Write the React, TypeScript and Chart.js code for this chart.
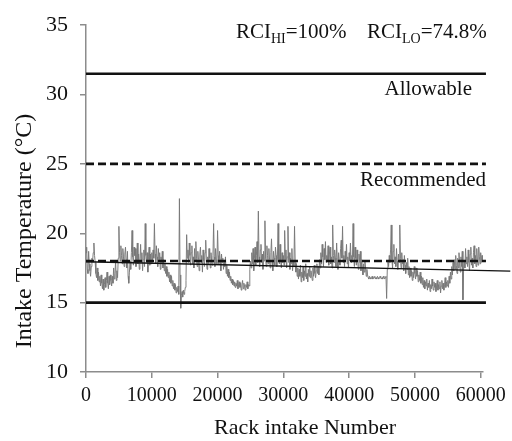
import React, { useEffect, useRef } from 'react';
import { Chart, registerables } from 'chart.js';

Chart.register(...registerables);

// ---- data ----
const RACK_STEP = 100; // spacing between sampled rack intake numbers
const intakeTemps = [
  // 0 - 4900
  18.6, 19.0, 17.4, 17.1, 18.7, 17.8, 17.3, 16.9, 17.6, 18.2,
  18.0, 18.6, 19.3, 18.4, 17.9, 17.1, 16.8, 17.5, 16.6, 17.2,
  16.5, 16.9, 16.2, 17.0, 16.4, 16.0, 16.7, 15.9, 16.3, 16.8,
  16.1, 16.6, 17.2, 16.4, 16.0, 16.9, 16.3, 17.0, 16.6, 16.2,
  16.9, 16.4, 17.5, 16.7, 17.1, 18.0, 16.6, 17.3, 16.8, 18.2,
  // 5000 - 9900
  20.5, 18.6, 18.0, 19.1, 18.4, 17.8, 18.9, 18.3, 17.6, 18.5,
  19.0, 18.1, 17.5, 18.7, 16.9, 16.4, 17.2, 18.0, 17.4, 18.6,
  20.2, 18.3, 17.7, 19.0, 18.4, 18.9, 17.6, 18.2, 19.3, 17.8,
  18.5, 17.4, 18.0, 19.2, 17.9, 18.6, 17.3, 18.1, 18.8, 17.6,
  20.7, 18.4, 17.9, 18.6, 17.2, 18.3, 19.0, 17.7, 18.5, 17.8,
  // 10000 - 14900
  18.6, 17.9, 18.8, 18.2, 20.7, 18.5, 17.8, 19.1, 18.3, 17.6,
  18.9, 18.0, 18.6, 17.4, 18.3, 17.9, 18.7, 17.5, 18.1, 17.3,
  17.8, 17.1, 17.6, 16.9, 17.4, 16.8, 17.2, 16.5, 17.0, 16.4,
  16.9, 16.2, 16.6, 16.0, 16.4, 15.9, 16.3, 15.7, 16.1, 15.8,
  16.2, 15.6, 22.5, 17.0, 14.6, 15.5, 15.8, 15.4, 15.9, 15.6,
  // 15000 - 19900
  15.8, 16.1, 16.6, 19.9, 18.2, 18.8, 17.9, 19.3, 18.4, 17.7,
  18.6, 19.1, 17.8, 18.3, 17.5, 18.9, 18.0, 19.4, 18.2, 17.6,
  18.7, 18.1, 17.3, 18.5, 19.0, 17.9, 18.4, 17.2, 18.8, 18.0,
  17.6, 18.6, 19.5, 18.1, 17.4, 18.3, 17.8, 18.9, 18.2, 17.5,
  18.6, 18.0, 17.7, 18.4, 20.7, 18.3, 17.6, 18.9, 18.1, 17.8,
  // 20000 - 24900
  20.2, 18.4, 17.8, 18.7, 18.1, 17.3, 18.5, 17.9, 18.2, 17.4,
  18.0, 17.6, 18.3, 17.1, 17.7, 16.9, 17.4, 16.8, 17.2, 16.6,
  16.9, 16.4, 16.7, 16.3, 16.6, 16.2, 16.5, 16.1, 16.4, 16.2,
  16.6, 16.0, 16.3, 16.5, 16.1, 16.4, 15.9, 16.3, 16.6, 16.0,
  16.4, 16.2, 15.9, 16.3, 16.1, 16.5, 16.0, 16.3, 16.2, 17.4,
  // 25000 - 29900
  18.0, 17.5, 18.6, 17.8, 18.9, 17.3, 18.2, 19.0, 17.7, 18.4,
  19.4, 17.9, 21.6, 18.3, 17.6, 18.8, 19.2, 17.9, 18.5, 17.4,
  18.7, 18.0, 20.9, 18.2, 17.6, 19.1, 18.4, 17.8, 18.9, 18.1,
  17.5, 18.6, 19.6, 18.0, 17.3, 18.7, 18.2, 17.7, 19.0, 18.4,
  17.6, 18.3, 20.7, 18.1, 17.8, 19.2, 18.0, 17.5, 18.6, 17.9,
  // 30000 - 34900
  18.4, 17.7, 20.2, 18.1, 18.8, 17.5, 18.3, 20.5, 17.9, 18.6,
  17.4, 18.2, 17.8, 18.9, 17.3, 18.0, 17.6, 20.5, 17.9, 17.2,
  17.8, 16.9, 17.5, 16.7, 17.4, 16.9, 17.7, 16.5, 17.2, 16.8,
  17.6, 16.6, 17.3, 16.9, 17.8, 16.7, 17.1, 16.5, 17.4, 16.9,
  17.6, 16.8, 17.3, 17.0, 16.6, 17.5, 16.9, 17.7, 17.1, 16.8,
  // 35000 - 39900
  17.3, 17.8, 17.1, 17.6, 17.0, 18.1, 17.5, 18.6, 17.8, 19.2,
  18.3, 17.6, 18.9, 18.1, 19.4, 17.9, 18.4, 18.0, 19.1, 17.7,
  18.5, 19.0, 17.8, 18.3, 17.5, 20.6, 18.4, 17.9, 18.8, 18.2,
  17.6, 19.3, 18.1, 17.4, 18.6, 18.0, 17.7, 18.9, 19.5, 18.2,
  20.5, 17.9, 18.4, 17.6, 18.7, 18.1, 19.2, 17.8, 18.3, 17.5,
  // 40000 - 44900
  18.6, 18.0, 19.3, 17.9, 18.4, 18.1, 20.7, 18.3, 17.6, 19.0,
  18.2, 17.7, 18.8, 18.0, 17.4, 18.5, 17.9, 18.7, 17.3, 18.1,
  17.6, 17.0, 17.8, 17.2, 18.0, 17.5, 16.9, 17.4, 17.0, 16.8,
  16.7, 16.9, 16.8, 16.7, 16.8, 16.9, 16.7, 16.8, 16.8, 16.9,
  16.7, 16.8, 16.7, 16.9, 16.8, 16.7, 16.8, 16.9, 16.8, 16.7,
  // 45000 - 49900
  16.8, 16.7, 16.9, 16.8, 16.7, 16.8, 16.9, 15.3, 17.4, 18.0,
  17.6, 18.4, 17.9, 18.8, 20.6, 18.1, 17.5, 18.7, 19.2, 17.8,
  18.3, 17.6, 18.9, 18.0, 17.4, 18.5, 17.9, 20.6, 18.2, 17.5,
  18.6, 17.8, 18.1, 17.3, 18.4, 17.7, 17.1, 17.9, 17.4, 18.2,
  17.0, 17.6, 16.8, 17.5, 16.9, 17.3, 16.6, 17.2, 16.8, 17.6,
  // 50000 - 54900
  17.1, 16.7, 17.5, 16.9, 17.3, 16.5, 17.0, 16.6, 17.2, 16.4,
  16.9, 16.3, 16.8, 16.1, 16.6, 16.0, 16.5, 16.2, 16.7, 15.9,
  16.4, 16.1, 16.6, 15.8, 16.3, 16.0, 16.7, 16.2, 15.9, 16.5,
  16.1, 16.4, 15.8, 16.2, 16.6, 15.9, 16.3, 16.0, 16.5, 15.7,
  16.2, 16.6, 16.0, 16.4, 15.9, 16.3, 16.8, 16.1, 16.5, 16.2,
  // 55000 - 59900
  16.6, 16.1, 16.9, 16.4, 17.2, 16.7, 17.6, 17.0, 17.9, 17.3,
  18.1, 17.4, 18.4, 17.7, 17.1, 18.2, 17.5, 18.6, 17.8, 17.2,
  18.3, 17.6, 18.7, 15.2, 17.4, 18.0, 17.5, 18.9, 17.8, 18.3,
  17.6, 18.8, 17.9, 17.3, 18.5, 19.0, 17.7, 18.2, 17.5, 18.6,
  19.1, 17.8, 18.4, 17.6, 18.9, 18.1, 17.7, 19.0, 18.3, 17.8,
  // 60000 - 60300
  18.6, 17.9, 18.4, 18.1,
];

const xTickValues = [0, 10000, 20000, 30000, 40000, 50000, 60000];
const yTickValues = [10, 15, 20, 25, 30, 35];

const limitNames = ['Allowable max', 'Recommended max', 'Recommended min', 'Allowable min'];
const limitValues = [31.5, 25, 18, 15];
const limitDashed = [false, true, true, false];
const limitXRange = [0, 60800];

const trendX = [0, 64500];
const trendY = [17.95, 17.27];

const X_MAX = 60350;

const FAMILY = '"Liberation Serif", "Times New Roman", Times, serif';
const serif = (px: number) => `${px}px ${FAMILY}`;

function drawSubText(ctx: CanvasRenderingContext2D, x: number, y: number, main: string, sub: string, rest: string) {
  ctx.font = serif(21);
  ctx.fillText(main, x, y);
  x += ctx.measureText(main).width;
  ctx.font = serif(14);
  ctx.fillText(sub, x, y + 5);
  x += ctx.measureText(sub).width;
  ctx.font = serif(21);
  ctx.fillText(rest, x, y);
}

const textPlugin = {
  id: 'chartTexts',
  afterDraw(chart: any) {
    const ctx: CanvasRenderingContext2D = chart.ctx;
    ctx.save();
    ctx.fillStyle = '#111';
    ctx.textBaseline = 'alphabetic';
    ctx.textAlign = 'left';
    drawSubText(ctx, 236, 38, 'RCI', 'HI', '=100%');
    drawSubText(ctx, 367, 38, 'RCI', 'LO', '=74.8%');
    ctx.font = serif(21);
    ctx.textAlign = 'right';
    ctx.fillText('Allowable', 472, 95);
    ctx.fillText('Recommended', 486, 186);
    // x title
    ctx.textAlign = 'center';
    ctx.font = serif(22);
    ctx.fillText('Rack intake Number', 305, 434);
    // y title
    ctx.translate(31, 231);
    ctx.rotate(-Math.PI / 2);
    ctx.font = serif(24);
    ctx.fillText('Intake Temperature (°C)', 0, 0);
    ctx.restore();
  },
};

export default function App() {
  const ref = useRef<HTMLCanvasElement | null>(null);
  useEffect(() => {
    if (!ref.current) return;
    const seriesPoints = intakeTemps.map((v, i) => ({ x: i * RACK_STEP, y: v }));
    const limitSets = limitValues.map((v, i) => ({
      label: limitNames[i],
      data: limitXRange.map((x) => ({ x, y: v })),
      showLine: true,
      borderColor: '#111',
      borderWidth: 2.6,
      borderDash: limitDashed[i] ? [8, 4] : [],
      pointRadius: 0,
      clip: false as any,
    }));
    const axisColor = '#8c8c8c';
    const chart = new Chart(ref.current, {
      type: 'scatter',
      data: {
        datasets: [
          {
            label: 'Trend',
            data: trendX.map((x, i) => ({ x, y: trendY[i] })),
            showLine: true,
            borderColor: '#111',
            borderWidth: 1.4,
            pointRadius: 0,
            clip: false as any,
          } as any,
          ...limitSets,
          {
            label: 'Rack intake temperature',
            data: seriesPoints,
            showLine: true,
            borderColor: 'rgba(120,120,120,0.95)',
            borderWidth: 1,
            pointRadius: 0,
          },
        ],
      },
      options: {
        animation: false,
        responsive: false,
        layout: { padding: { left: 0, top: 17, right: 29, bottom: 0 } },
        plugins: { legend: { display: false }, tooltip: { enabled: false } },
        scales: {
          x: {
            type: 'linear',
            min: 0,
            max: X_MAX,
            afterBuildTicks: (scale: any) => {
              scale.ticks = xTickValues.map((value) => ({ value }));
            },
            afterFit: (scale: any) => {
              scale.height = 69;
            },
            grid: { drawOnChartArea: false, drawTicks: true, tickLength: 6, color: axisColor, lineWidth: 1.5 },
            border: { color: axisColor, width: 1.5 },
            ticks: {
              color: '#111',
              font: { family: FAMILY, size: 20 },
              padding: 6,
              maxRotation: 0,
              autoSkip: false,
              callback: (v: any) => String(v),
            },
          },
          y: {
            type: 'linear',
            min: 10,
            max: 35,
            afterBuildTicks: (scale: any) => {
              scale.ticks = yTickValues.map((value) => ({ value }));
            },
            afterFit: (scale: any) => {
              scale.width = 86;
            },
            grid: { drawOnChartArea: false, drawTicks: true, tickLength: 6, color: axisColor, lineWidth: 1.5 },
            border: { color: axisColor, width: 1.5 },
            ticks: {
              color: '#111',
              font: { family: FAMILY, size: 22 },
              padding: 12,
              callback: (v: any) => String(v),
            },
          },
        },
      },
      plugins: [textPlugin],
    });
    return () => chart.destroy();
  }, []);
  return (
    <div style={{ position: 'fixed', left: 0, top: 0, width: 512, height: 441, background: '#fff' }}>
      <canvas ref={ref} width={512} height={441} />
    </div>
  );
}
